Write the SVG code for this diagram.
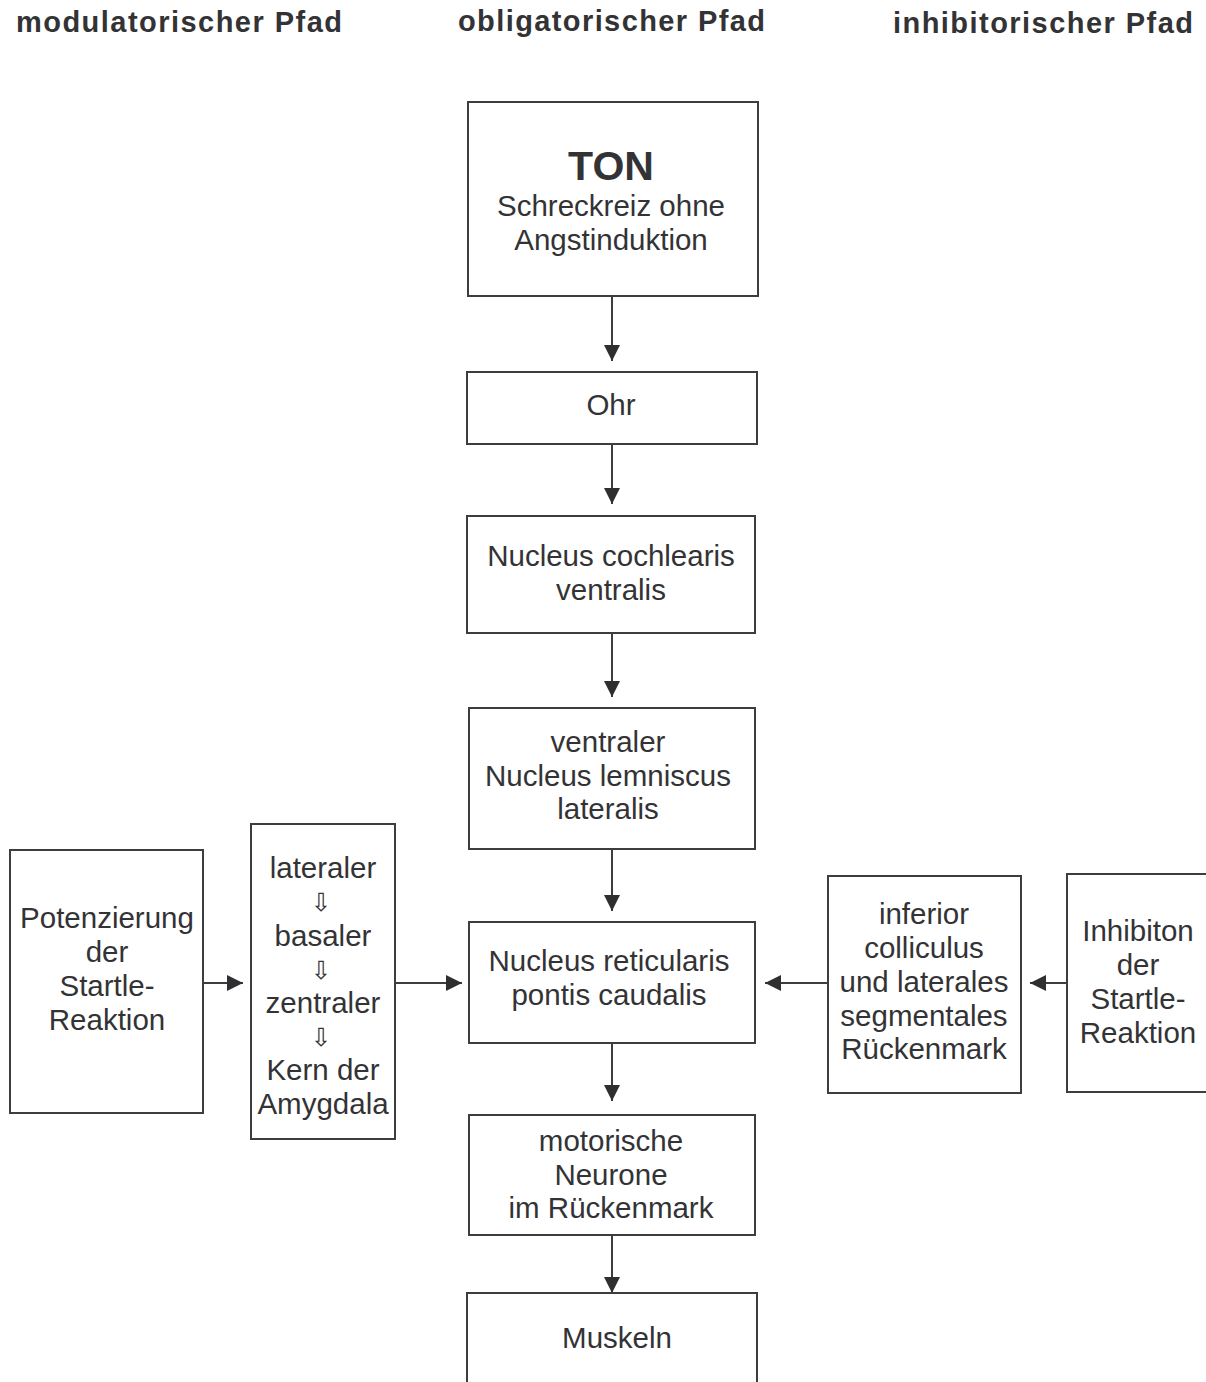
<svg xmlns="http://www.w3.org/2000/svg" width="1206" height="1382" viewBox="0 0 1206 1382">
  <style>
    .box { fill: #ffffff; stroke: #3d3d3f; stroke-width: 2; }
    .t { font-family: "Liberation Sans", Arial, sans-serif; font-size: 29.5px; fill: #333336; text-anchor: middle; }
    .hd { font-family: "Liberation Sans", Arial, sans-serif; font-size: 29px; font-weight: bold; fill: #333336; text-anchor: middle; }
    .big { font-family: "Liberation Sans", Arial, sans-serif; font-size: 41px; font-weight: bold; fill: #333336; text-anchor: middle; }
    .sm { font-family: "DejaVu Sans", sans-serif; font-size: 25px; fill: #333336; text-anchor: middle; }
    .edge { stroke: #3d3d3f; stroke-width: 2; fill: none; marker-end: url(#arrow); }
  </style>
  <defs>
    <marker id="arrow" markerUnits="userSpaceOnUse" markerWidth="16" markerHeight="16" refX="16" refY="8" orient="auto">
      <path d="M0,0 L16,8 L0,16 z" fill="#2f2f31"/>
    </marker>
  </defs>
  <rect width="1206" height="1382" fill="#ffffff"/>

  <!-- column headings -->
  <g id="headings">
    <text class="hd" x="179" y="32" textLength="326" lengthAdjust="spacing">modulatorischer Pfad</text>
    <text class="hd" x="611.5" y="31" textLength="307" lengthAdjust="spacing">obligatorischer Pfad</text>
    <text class="hd" x="1043" y="33" textLength="300" lengthAdjust="spacing">inhibitorischer Pfad</text>
  </g>

  <!-- connectors -->
  <g id="connectors">
    <line class="edge" x1="612" y1="296" x2="612" y2="361"/>
    <line class="edge" x1="612" y1="444" x2="612" y2="504"/>
    <line class="edge" x1="612" y1="633" x2="612" y2="697"/>
    <line class="edge" x1="612" y1="849" x2="612" y2="911"/>
    <line class="edge" x1="612" y1="1043" x2="612" y2="1101"/>
    <line class="edge" x1="612" y1="1235" x2="612" y2="1293"/>
    <line class="edge" x1="203" y1="983" x2="243" y2="983"/>
    <line class="edge" x1="395" y1="983" x2="462" y2="983"/>
    <line class="edge" x1="828" y1="983" x2="765" y2="983"/>
    <line class="edge" x1="1067" y1="983" x2="1030" y2="983"/>
  </g>

  <g id="ton">
    <rect class="box" x="468" y="102" width="290" height="194"/>
    <text class="big" x="611" y="180">TON</text>
    <text class="t" x="611" y="216">Schreckreiz ohne</text>
    <text class="t" x="611" y="250">Angstinduktion</text>
  </g>

  <g id="ohr">
    <rect class="box" x="467" y="372" width="290" height="72"/>
    <text class="t" x="611" y="415">Ohr</text>
  </g>

  <g id="nucleus-cochlearis">
    <rect class="box" x="467" y="516" width="288" height="117"/>
    <text class="t" x="611" y="566">Nucleus cochlearis</text>
    <text class="t" x="611" y="600">ventralis</text>
  </g>

  <g id="lemniscus">
    <rect class="box" x="469" y="708" width="286" height="141"/>
    <text class="t" x="608" y="752">ventraler</text>
    <text class="t" x="608" y="786">Nucleus lemniscus</text>
    <text class="t" x="608" y="819">lateralis</text>
  </g>

  <g id="reticularis">
    <rect class="box" x="469" y="922" width="286" height="121"/>
    <text class="t" x="609" y="971">Nucleus reticularis</text>
    <text class="t" x="609" y="1005">pontis caudalis</text>
  </g>

  <g id="motorneurone">
    <rect class="box" x="469" y="1115" width="286" height="120"/>
    <text class="t" x="611" y="1151">motorische</text>
    <text class="t" x="611" y="1185">Neurone</text>
    <text class="t" x="611" y="1218">im Rückenmark</text>
  </g>

  <g id="muskeln">
    <rect class="box" x="467" y="1293" width="290" height="120"/>
    <text class="t" x="617" y="1348">Muskeln</text>
  </g>

  <g id="potenzierung">
    <rect class="box" x="10" y="850" width="193" height="263"/>
    <text class="t" x="107" y="928">Potenzierung</text>
    <text class="t" x="107" y="962">der</text>
    <text class="t" x="107" y="996">Startle-</text>
    <text class="t" x="107" y="1030">Reaktion</text>
  </g>

  <g id="amygdala">
    <rect class="box" x="251" y="824" width="144" height="315"/>
    <text class="t" x="323" y="878">lateraler</text>
    <text class="sm" x="321" y="911">⇩</text>
    <text class="t" x="323" y="946">basaler</text>
    <text class="sm" x="321" y="979">⇩</text>
    <text class="t" x="323" y="1013">zentraler</text>
    <text class="sm" x="321" y="1046">⇩</text>
    <text class="t" x="323" y="1080">Kern der</text>
    <text class="t" x="323" y="1114">Amygdala</text>
  </g>

  <g id="colliculus">
    <rect class="box" x="828" y="876" width="193" height="217"/>
    <text class="t" x="924" y="924">inferior</text>
    <text class="t" x="924" y="958">colliculus</text>
    <text class="t" x="924" y="992">und laterales</text>
    <text class="t" x="924" y="1026">segmentales</text>
    <text class="t" x="924" y="1059">Rückenmark</text>
  </g>

  <g id="inhibition">
    <rect class="box" x="1067" y="874" width="160" height="218"/>
    <text class="t" x="1138" y="941">Inhibiton</text>
    <text class="t" x="1138" y="975">der</text>
    <text class="t" x="1138" y="1009">Startle-</text>
    <text class="t" x="1138" y="1043">Reaktion</text>
  </g>
</svg>
